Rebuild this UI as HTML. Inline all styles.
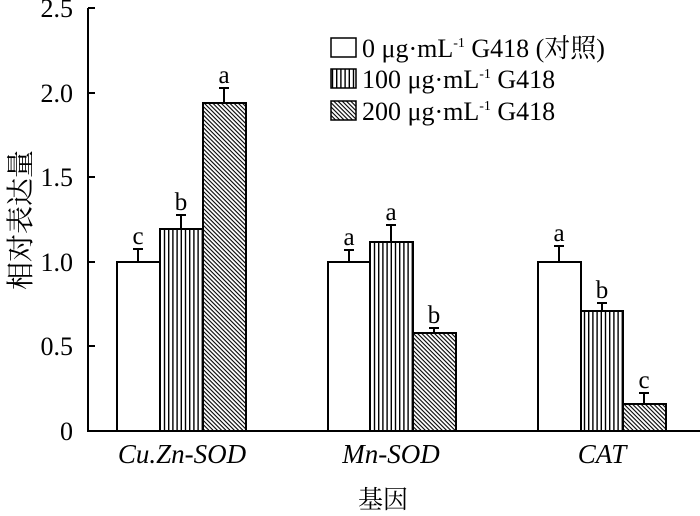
<!DOCTYPE html>
<html><head><meta charset="utf-8"><style>body{margin:0;background:#fff}svg{display:block}</style></head><body>
<svg width="700" height="516" xmlns="http://www.w3.org/2000/svg" font-family="'Liberation Serif','Noto Serif CJK SC',serif">
<defs>
<pattern id="v" width="4.2" height="4" patternUnits="userSpaceOnUse"><rect width="4.2" height="4" fill="#fff"/><rect x="0" width="1.4" height="4" fill="#000"/></pattern>
<pattern id="d" width="3" height="3" patternUnits="userSpaceOnUse" patternTransform="rotate(45)"><rect width="3" height="3" fill="#fff"/><rect y="0" width="3" height="1.1" fill="#000"/></pattern>
</defs>
<g stroke="#000" stroke-width="2" fill="none">
<line x1="88" y1="8" x2="88" y2="432"/>
<line x1="87" y1="431" x2="700" y2="431"/>
<line x1="88" y1="8" x2="95" y2="8"/><line x1="88" y1="93" x2="95" y2="93"/><line x1="88" y1="177" x2="95" y2="177"/><line x1="88" y1="262" x2="95" y2="262"/><line x1="88" y1="346" x2="95" y2="346"/>
</g>
<g font-size="26" text-anchor="end">
<text x="73" y="17">2.5</text><text x="73" y="102">2.0</text><text x="73" y="186">1.5</text><text x="73" y="271">1.0</text><text x="73" y="355">0.5</text><text x="73" y="440">0</text>
</g>
<g stroke="#000" stroke-width="2">
<rect x="117" y="262" width="43" height="169" fill="#fff"/>
<rect x="160" y="229" width="43" height="202" fill="url(#v)"/>
<rect x="203" y="103" width="43" height="328" fill="url(#d)"/>
<rect x="328" y="262" width="42" height="169" fill="#fff"/>
<rect x="370" y="242" width="43" height="189" fill="url(#v)"/>
<rect x="413" y="333" width="43" height="98" fill="url(#d)"/>
<rect x="538" y="262" width="43" height="169" fill="#fff"/>
<rect x="581" y="311" width="42" height="120" fill="url(#v)"/>
<rect x="623" y="404" width="43" height="27" fill="url(#d)"/>
<path d="M138 262V249M133 249H143 M181 229V215M176 215H186 M224 103V88M219 88H229 M349 262V250M344 250H354 M391 242V225M386 225H396 M434 333V328M429 328H439 M559 262V246M554 246H564 M602 311V303M597 303H607 M644 404V393M639 393H649" fill="none"/>
</g>
<g font-size="25" text-anchor="middle">
<text x="138" y="244">c</text><text x="181" y="210">b</text><text x="224" y="83">a</text>
<text x="349" y="245">a</text><text x="391" y="220">a</text><text x="434" y="323">b</text>
<text x="559" y="241">a</text><text x="602" y="298">b</text><text x="644" y="388">c</text>
</g>
<g font-size="27" font-style="italic" text-anchor="middle">
<text x="182" y="463">Cu.Zn-SOD</text><text x="391" y="463">Mn-SOD</text><text x="602" y="463">CAT</text>
</g>
<text x="383" y="508" font-size="25" text-anchor="middle">基因</text>
<text transform="translate(30,220) rotate(-90)" font-size="28" text-anchor="middle">相对表达量</text>
<g stroke="#000" stroke-width="1.5">
<rect x="331" y="38" width="25" height="19" fill="#fff"/>
<rect x="331" y="69" width="25" height="19" fill="url(#v)"/>
<rect x="331" y="101" width="25" height="19" fill="url(#d)"/>
</g>
<g font-size="26">
<text x="362" y="57">0 μg·mL<tspan font-size="14" dy="-10">-1</tspan><tspan dy="10"> G418 (对照)</tspan></text>
<text x="362" y="88">100 μg·mL<tspan font-size="14" dy="-10">-1</tspan><tspan dy="10"> G418</tspan></text>
<text x="362" y="120">200 μg·mL<tspan font-size="14" dy="-10">-1</tspan><tspan dy="10"> G418</tspan></text>
</g>
</svg>
</body></html>
